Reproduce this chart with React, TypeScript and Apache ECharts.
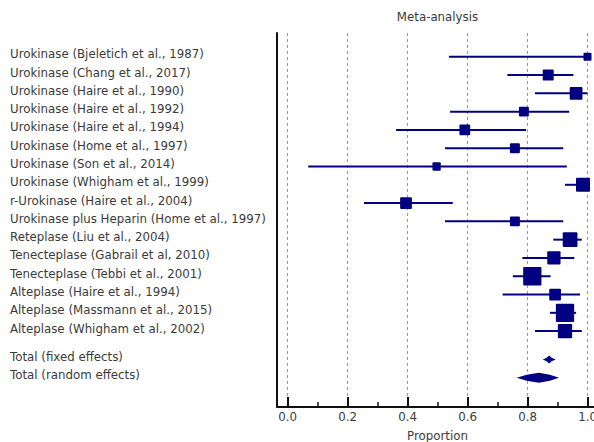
import React, { useEffect, useRef } from "react";
import * as echarts from "echarts";

const studyNames = [
  "Urokinase (Bjeletich et al., 1987)",
  "Urokinase (Chang et al., 2017)",
  "Urokinase (Haire et al., 1990)",
  "Urokinase (Haire et al., 1992)",
  "Urokinase (Haire et al., 1994)",
  "Urokinase (Home et al., 1997)",
  "Urokinase (Son et al., 2014)",
  "Urokinase (Whigham et al., 1999)",
  "r-Urokinase (Haire et al., 2004)",
  "Urokinase plus Heparin (Home et al., 1997)",
  "Reteplase (Liu et al., 2004)",
  "Tenecteplase (Gabrail et al, 2010)",
  "Tenecteplase (Tebbi et al., 2001)",
  "Alteplase (Haire et al., 1994)",
  "Alteplase (Massmann et al., 2015)",
  "Alteplase (Whigham et al., 2002)",
];
const studyRows = [0, 1, 2, 3, 4, 5, 6, 7, 8, 9, 10, 11, 12, 13, 14, 15];
const estimates = [1.0, 0.869, 0.962, 0.788, 0.591, 0.758, 0.497, 0.985, 0.395, 0.758, 0.942, 0.888, 0.816, 0.892, 0.925, 0.925];
const lowerCI = [0.538, 0.733, 0.825, 0.542, 0.362, 0.525, 0.069, 0.925, 0.255, 0.525, 0.886, 0.783, 0.751, 0.717, 0.875, 0.825];
const upperCI = [1.0, 0.953, 1.0, 0.939, 0.795, 0.919, 0.931, 1.0, 0.551, 0.919, 0.981, 0.956, 0.877, 0.975, 0.962, 0.981];
const weights = [3.2, 6.0, 8.0, 4.9, 5.7, 4.9, 3.4, 9.7, 6.8, 4.9, 10.7, 8.7, 16.5, 6.8, 16.5, 10.1];

const totalNames = ["Total (fixed effects)", "Total (random effects)"];
const totalRows = [16.55, 17.55];
const totalEstimates = [0.872, 0.838];
const totalLower = [0.851, 0.764];
const totalUpper = [0.894, 0.905];

const FONT = "'DejaVu Sans', sans-serif";
const TEXT = "#3a3a3a";
const NAVY = "#000080";

export default function App() {
  const ref = useRef<HTMLDivElement>(null);
  useEffect(() => {
    if (!ref.current) return;
    const chart = echarts.init(ref.current, undefined, { renderer: "svg" });
    const studyData = studyRows.map((r, i) => [r, lowerCI[i], estimates[i], upperCI[i], weights[i]]);
    const totalData = totalRows.map((r, i) => [r, totalLower[i], totalEstimates[i], totalUpper[i]]);
    const label = (text: string, y: number) => ({
      type: "text",
      x: 10,
      y: y - 2.5,
      style: { text, fontFamily: FONT, fontSize: 11.8, fill: TEXT, align: "left", verticalAlign: "middle" },
    });
    chart.setOption({
      animation: false,
      grid: [
        { left: 277, right: -4, top: 33, bottom: 35, outerBoundsMode: "none", containLabel: false },
        { left: 287.5, right: -4, top: 33, bottom: 35, outerBoundsMode: "none", containLabel: false },
      ],
      graphic: [
        {
          type: "text",
          x: 437.5,
          y: 17,
          style: { text: "Meta-analysis", fontFamily: FONT, fontSize: 11.8, fill: TEXT, align: "center", verticalAlign: "middle" },
        },
      ],
      xAxis: [
        {
          gridIndex: 0,
          type: "value",
          min: -0.035,
          max: 1.035,
          axisLine: { show: true, onZero: false, lineStyle: { color: "#111", width: 2 } },
          axisTick: { show: false },
          axisLabel: { show: false },
          splitLine: { show: false },
          name: "Proportion",
          nameLocation: "middle",
          nameGap: 23,
          nameTextStyle: { fontFamily: FONT, fontSize: 11.8, color: TEXT },
        },
        {
          gridIndex: 1,
          type: "value",
          min: 0,
          max: 1.035,
          interval: 0.2,
          axisLine: { show: false, onZero: false },
          axisTick: { show: true, inside: true, length: 10, lineStyle: { color: "#111", width: 2 } },
          minorTick: { show: true, splitNumber: 2, length: 5, lineStyle: { color: "#111", width: 1.5 } },
          axisLabel: {
            show: true,
            margin: 4,
            showMaxLabel: false,
            formatter: (v: number) => v.toFixed(1),
            fontFamily: FONT,
            fontSize: 11.8,
            color: TEXT,
          },
          splitLine: { show: true, lineStyle: { color: "#999", width: 1, type: [3, 3] } },
        },
      ],
      yAxis: [
        {
          gridIndex: 0,
          type: "value",
          inverse: true,
          min: -1.3,
          max: 19.15,
          axisLine: { show: true, onZero: false, lineStyle: { color: "#111", width: 2 } },
          axisTick: { show: false },
          axisLabel: { show: false },
          splitLine: { show: false },
        },
        {
          gridIndex: 1,
          type: "value",
          inverse: true,
          min: -1.3,
          max: 19.15,
          show: false,
          axisLine: { onZero: false },
          splitLine: { show: false },
        },
      ],
      series: [
        {
          type: "custom",
          xAxisIndex: 1,
          yAxisIndex: 1,
          clip: false,
          data: studyData,
          renderItem: (params: any, api: any) => {
            const row = api.value(0);
            const p0 = api.coord([api.value(1), row]);
            const pe = api.coord([api.value(2), row]);
            const p1 = api.coord([api.value(3), row]);
            const s = 4.5 * Math.sqrt(api.value(4));
            return {
              type: "group",
              children: [
                {
                  type: "line",
                  shape: { x1: p0[0], y1: p0[1], x2: p1[0], y2: p1[1] },
                  style: { stroke: NAVY, lineWidth: 2 },
                },
                {
                  type: "rect",
                  shape: { x: pe[0] - s / 2, y: pe[1] - s / 2, width: s, height: s, r: 1 },
                  style: { fill: NAVY },
                },
                label(studyNames[params.dataIndex], pe[1]),
              ],
            };
          },
        },
        {
          type: "custom",
          xAxisIndex: 1,
          yAxisIndex: 1,
          clip: false,
          data: totalData,
          renderItem: (params: any, api: any) => {
            const row = api.value(0);
            const lo = api.coord([api.value(1), row]);
            const es = api.coord([api.value(2), row]);
            const hi = api.coord([api.value(3), row]);
            const fixed = params.dataIndex === 0;
            const h = fixed ? 4 : 5;
            const y = es[1];
            const a = lo[0] + (fixed ? 0.6 : 0.45) * (es[0] - lo[0]);
            const b = es[0] + (fixed ? 0.4 : 0.55) * (hi[0] - es[0]);
            const k = fixed ? 0.45 : 0.6;
            return {
              type: "group",
              children: [
                {
                  type: "polygon",
                  shape: {
                    points: [
                      [lo[0], y],
                      [a, y - h * k],
                      [es[0], y - h],
                      [b, y - h * k],
                      [hi[0], y],
                      [b, y + h * k],
                      [es[0], y + h],
                      [a, y + h * k],
                    ],
                  },
                  style: { fill: NAVY },
                },
                label(totalNames[params.dataIndex], y),
              ],
            };
          },
        },
      ],
    });
    return () => chart.dispose();
  }, []);
  return <div ref={ref} style={{ position: "fixed", left: 0, top: 0, width: 594, height: 442, background: "#fff" }} />;
}
